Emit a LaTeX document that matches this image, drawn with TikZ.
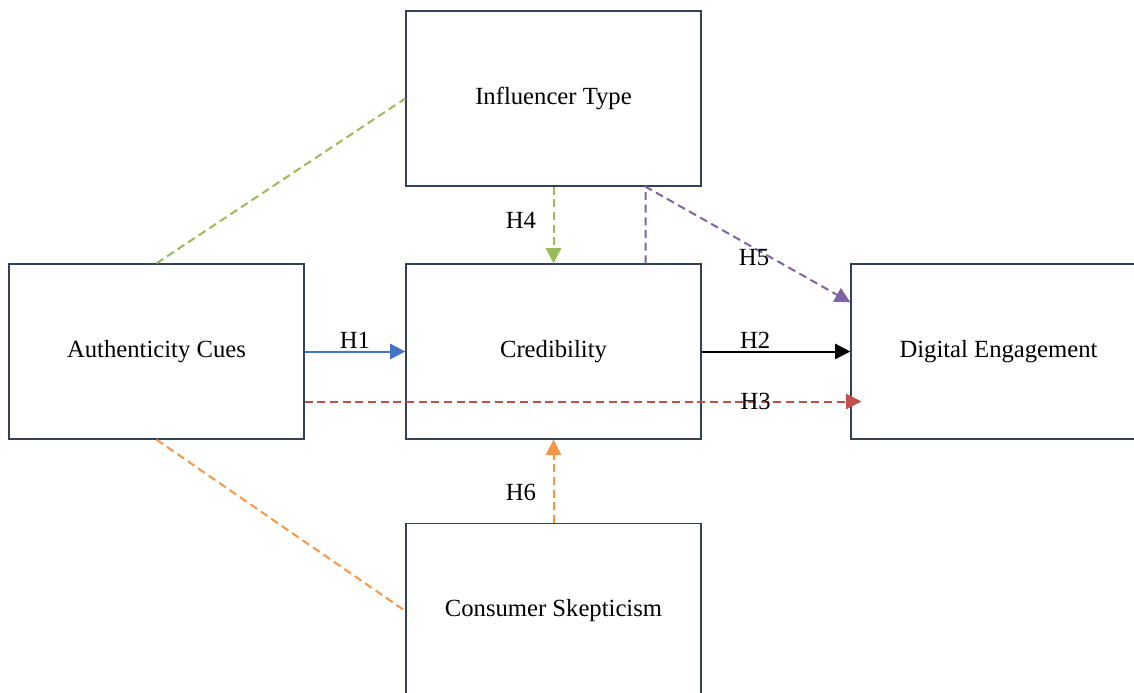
\documentclass[tikz,border=0pt]{standalone}
\usepackage{fontspec}
\setmainfont{Liberation Serif}
\usetikzlibrary{arrows.meta}

\definecolor{boxline}{RGB}{50,66,92}
\definecolor{hblue}{RGB}{68,114,196}
\definecolor{hred}{RGB}{192,80,77}
\definecolor{hgreen}{RGB}{155,187,89}
\definecolor{hpurple}{RGB}{128,100,162}
\definecolor{horange}{RGB}{247,150,70}

\begin{document}
\begin{tikzpicture}[
        x=0.75pt, y=-0.75pt,
        construct/.style={
        rectangle,
        draw=boxline,
        line width=1pt,
        minimum width=221.25pt,
        minimum height=131.25pt,
        font=\fontsize{18.5}{22}\selectfont
      },
      hlabel/.style={text=black},
      hdash/.style={dash pattern=on 6pt off 3.5pt},
      line width=1.5pt,
      font=\fontsize{18.5}{22}\selectfont,
      >={Triangle[length=11.5pt,width=11.5pt]}
    ]

    \useasboundingbox (0, 0) rectangle (1134, 692);
    \clip (0, 0) rectangle (1134, 692);

    \node[construct] (infl) at (553.5, 98.5) {Influencer Type};
    \node[construct] (auth) at (156.5, 351.5) {Authenticity Cues};
    \node[construct] (cred) at (553.5, 351.5) {Credibility};
    \node[construct] (dig) at (998.5, 351.5) {Digital Engagement};
    \node[construct] (skep) at (553.5, 611) {Consumer Skepticism};

    \draw[hgreen, hdash] (auth.north) -- (infl.west);
    \draw[horange, hdash] (auth.south) -- (skep.west);

    \draw[->, hblue] (auth) -- (cred) node[hlabel, midway, above=-2pt] (h1) {H1};
    \draw[->, black] (cred) -- (dig) node[hlabel, pos=0.36, above=-2pt] (h2) {H2};
    \draw[->, hred, hdash] ([yshift=-37.5pt]auth.east) -- ([xshift=8.25pt, yshift=-37.5pt]dig.west) node[hlabel, pos=0.81] (h3) {H3};

    \draw[->, hgreen, hdash] (infl) -- (cred) node[hlabel, pos=0.44, left=9pt] (h4) {H4};
    \draw[->, hpurple, hdash] ([xshift=69pt]cred.north) -- ([xshift=69pt]infl.south) -- ([yshift=-29.25pt]dig.north west) node[hlabel, pos=0.53, yshift=-7pt] (h5) {H5};

    \draw[->, horange, hdash] (skep) -- (cred) node[hlabel, pos=0.37, left=9pt] (h6) {H6};

  \end{tikzpicture}
\end{document}
